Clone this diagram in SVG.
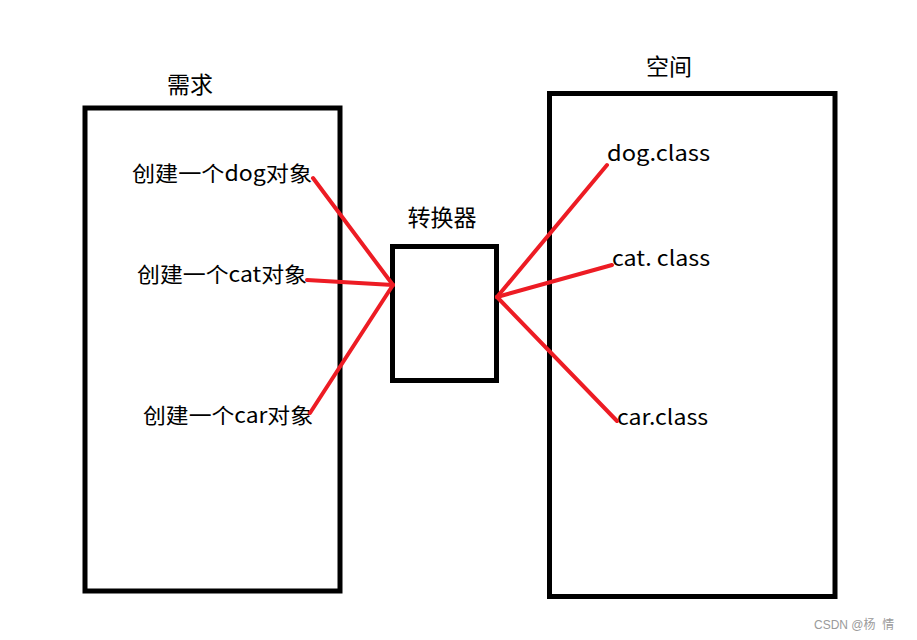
<svg xmlns="http://www.w3.org/2000/svg" width="917" height="640" viewBox="0 0 917 640">
<style>
.box{fill:none;stroke:#000;stroke-width:5}
.t{font-family:"Microsoft YaHei","Noto Sans CJK SC","Noto Sans",sans-serif;font-size:21px;fill:#000}
.h{font-size:23px}
.c{stroke:#ed1c24;stroke-width:4;stroke-linecap:round;fill:none}
.wm{font-family:"Liberation Sans","Noto Sans CJK SC",sans-serif;font-size:12px;fill:#9a9a9a}
</style>
<rect width="917" height="640" fill="#fff"/>
<g id="need">
<rect class="box" x="85" y="108" width="255" height="483"/>
<text class="t h" x="190" y="93" text-anchor="middle">需求</text>
<text class="t" x="132" y="181" textLength="180" lengthAdjust="spacingAndGlyphs">创建一个dog对象</text>
<text class="t" x="137" y="282" textLength="170" lengthAdjust="spacingAndGlyphs">创建一个cat对象</text>
<text class="t" x="143" y="423" textLength="170" lengthAdjust="spacingAndGlyphs">创建一个car对象</text>
</g>
<g id="converter">
<rect class="box" x="392.5" y="246.5" width="104" height="134"/>
<text class="t h" x="442" y="226" text-anchor="middle">转换器</text>
</g>
<g id="space">
<rect class="box" x="549.5" y="93.5" width="285.5" height="503"/>
<text class="t h" x="669" y="75" text-anchor="middle">空间</text>
<text class="t" x="607" y="161" textLength="103" lengthAdjust="spacingAndGlyphs">dog.class</text>
<text class="t" x="612" y="266" textLength="98" lengthAdjust="spacingAndGlyphs">cat. class</text>
<text class="t" x="617" y="425" textLength="91" lengthAdjust="spacingAndGlyphs">car.class</text>
</g>
<g id="connectors">
<line class="c" x1="313" y1="178" x2="393" y2="285"/>
<line class="c" x1="307" y1="280" x2="393" y2="285"/>
<line class="c" x1="310" y1="413" x2="393" y2="285"/>
<line class="c" x1="497" y1="297" x2="607" y2="165"/>
<line class="c" x1="497" y1="297" x2="612" y2="265"/>
<line class="c" x1="497" y1="297" x2="617" y2="421"/>
</g>
<text class="wm" x="814" y="629" xml:space="preserve">CSDN @杨  情</text>
</svg>
